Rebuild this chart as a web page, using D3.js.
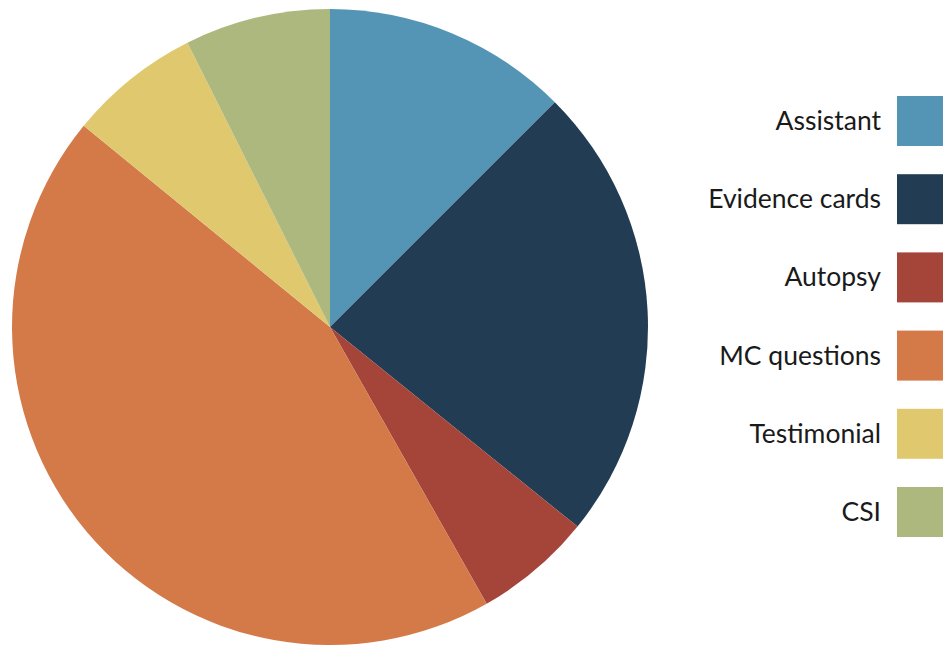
<!DOCTYPE html>
<html>
<head>
<meta charset="utf-8">
<script src="https://cdn.jsdelivr.net/npm/d3@7"></script>
<style>
  html, body { margin: 0; padding: 0; background: #fff; overflow: hidden; }
  svg { display: block; }
</style>
</head>
<body>
<svg id="chart" width="943" height="646"></svg>
<script>
// Share of time per activity
const categories = ["Assistant", "Evidence cards", "Autopsy", "MC questions", "Testimonial", "CSI"];
const values = [12.5, 23.3, 6.0, 44.1, 6.7, 7.4];
const colors = ["#5494b5", "#223d53", "#a5453a", "#d47a49", "#e0c86e", "#acb87e"];

const svg = d3.select("#chart");
const cx = 330, cy = 327, radius = 318;

const color = d3.scaleOrdinal().domain(categories).range(colors);

const pie = d3.pie().sort(null).value(d => d.value);
const arc = d3.arc().innerRadius(0).outerRadius(radius);

const data = categories.map((c, i) => ({ name: c, value: values[i] }));

svg.append("g")
  .attr("transform", `translate(${cx},${cy})`)
  .selectAll("path")
  .data(pie(data))
  .join("path")
  .attr("d", arc)
  .attr("fill", d => color(d.data.name));

// Legend: labels right-aligned beside square swatches
const legendY = d3.scalePoint().domain(categories).range([121, 512]);
const legend = svg.append("g");
const rows = legend.selectAll("g")
  .data(categories)
  .join("g")
  .attr("transform", d => `translate(0,${legendY(d)})`);

rows.append("rect")
  .attr("x", 897).attr("y", -25)
  .attr("width", 50).attr("height", 50)
  .attr("fill", d => color(d));

rows.append("text")
  .attr("x", 881).attr("y", 9)
  .attr("text-anchor", "end")
  .attr("font-family", "Lato, 'Open Sans', sans-serif")
  .attr("font-size", 26.5)
  .attr("fill", "#1a1a1a")
  .text(d => d);
</script>
</body>
</html>
